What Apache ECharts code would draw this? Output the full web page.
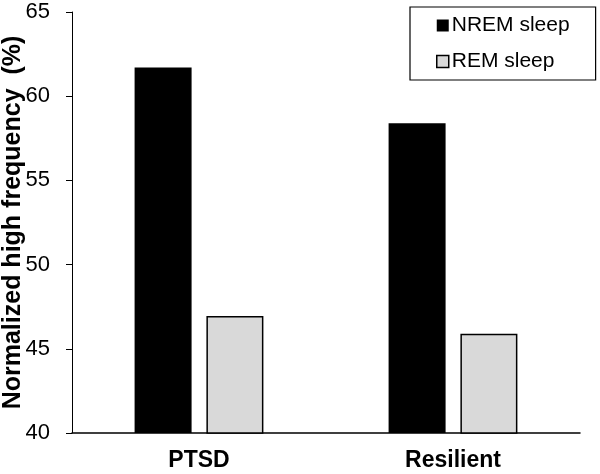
<!DOCTYPE html>
<html>
<head>
<meta charset="utf-8">
<script src="https://cdn.jsdelivr.net/npm/echarts@6/dist/echarts.min.js"></script>
<style>html,body{margin:0;padding:0;background:#fff}#c{width:600px;height:474px}</style>
</head>
<body>
<div id="c"></div>
<script>
var categories = ['PTSD', 'Resilient'];
var seriesNames = ['NREM sleep', 'REM sleep'];
var nremValues = [61.7, 58.4];
var remValues = [46.95, 45.9];
var yTicks = [40, 45, 50, 55, 60, 65];

var chart = echarts.init(document.getElementById('c'), null, {renderer: 'canvas'});
var font = '"Liberation Sans", Arial, sans-serif';
chart.setOption({
  animation: false,
  backgroundColor: '#fff',
  textStyle: {fontFamily: font},
  grid: {left: 72, right: 20, top: 12, bottom: 41, containLabel: false, outerBoundsMode: 'none'},
  legend: {
    orient: 'vertical',
    left: 410, top: 7,
    padding: [8, 26, 8, 26],
    itemGap: 15,
    itemWidth: 12, itemHeight: 12,
    borderColor: '#000', borderWidth: 1.2,
    textStyle: {fontSize: 21, color: '#000', fontFamily: font, padding: [0, 0, 0, -2]},
    data: [
      {name: seriesNames[0], icon: 'rect', itemStyle: {color: '#000', borderWidth: 0}},
      {name: seriesNames[1], icon: 'rect', itemStyle: {color: '#d9d9d9', borderColor: '#000', borderWidth: 1.5}}
    ]
  },
  xAxis: {
    type: 'category',
    data: categories,
    axisLine: {lineStyle: {color: '#000', width: 1.5}},
    axisTick: {show: false},
    axisLabel: {fontSize: 23, fontWeight: 'bold', color: '#000', margin: 16, fontFamily: font}
  },
  yAxis: {
    type: 'value',
    min: yTicks[0], max: yTicks[yTicks.length - 1], interval: 5,
    name: 'Normalized high frequency  (%)',
    nameLocation: 'middle',
    nameGap: 46,
    nameMoveOverlap: false,
    nameTextStyle: {fontSize: 25, fontWeight: 'bold', color: '#000', fontFamily: font},
    axisLine: {show: true, lineStyle: {color: '#000', width: 1}},
    axisTick: {show: true, length: 6, lineStyle: {color: '#000'}},
    axisLabel: {fontSize: 22, color: '#000', margin: 22, fontFamily: font},
    splitLine: {show: false}
  },
  series: [
    {name: seriesNames[0], type: 'bar', data: nremValues, barWidth: 57, barGap: '26%',
     itemStyle: {color: '#000'}},
    {name: seriesNames[1], type: 'bar', data: remValues, barWidth: 57,
     itemStyle: {color: '#d9d9d9', borderColor: '#000', borderWidth: 1.5}}
  ]
});
</script>
</body>
</html>
